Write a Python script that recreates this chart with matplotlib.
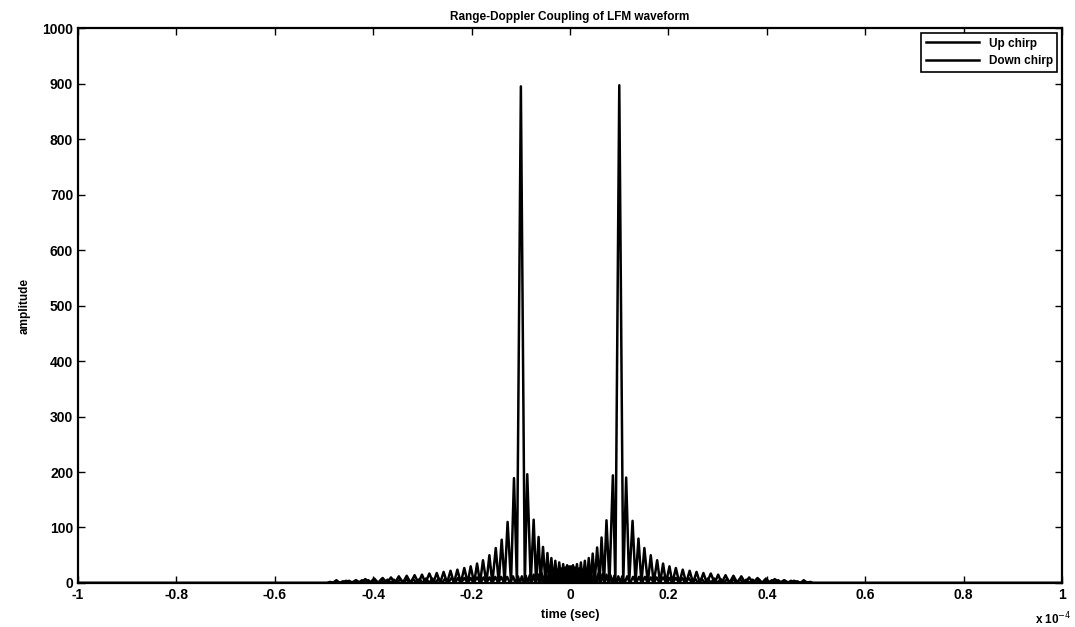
import matplotlib.pyplot as plt
from matplotlib.ticker import FuncFormatter, MultipleLocator

plt.rcParams['font.family'] = ['Liberation Sans', 'DejaVu Sans']
plt.rcParams['axes.unicode_minus'] = False

# time in units of 1e-4 s, amplitude
# up chirp: main lobe at -0.1
up_top_t = [-0.476, -0.455, -0.435, -0.416, -0.398, -0.381, -0.364, -0.348, -0.332, -0.316,
            -0.301, -0.286, -0.271, -0.257, -0.243, -0.229, -0.215, -0.202, -0.189, -0.177,
            -0.164, -0.151, -0.139, -0.127, -0.114, -0.100, -0.087, -0.074, -0.064, -0.055,
            -0.046, -0.038, -0.030, -0.022, -0.014, -0.006, 0.002, 0.010, 0.018, 0.026,
            0.034, 0.042, 0.050, 0.058, 0.066, 0.074, 0.082, 0.090, 0.098, 0.106,
            0.116, 0.128, 0.140, 0.152, 0.164, 0.176, 0.189, 0.202, 0.215, 0.228,
            0.241, 0.254, 0.267, 0.280, 0.293, 0.306, 0.319, 0.332, 0.345, 0.358,
            0.371, 0.384, 0.397, 0.410, 0.423, 0.436, 0.449, 0.462, 0.475, 0.488]
up_top_a = [2, 4, 5, 7, 8, 9, 10, 12, 13, 14,
            15, 17, 18, 20, 22, 24, 27, 30, 35, 41,
            50, 63, 78, 110, 189, 895, 196, 114, 83, 65,
            54, 45, 40, 37, 34, 32, 30, 28, 26, 24,
            22, 21, 19, 18, 16, 15, 14, 13, 12, 12,
            12, 11, 11, 11, 10, 10, 10, 9, 9, 9,
            9, 8, 8, 8, 8, 7, 7, 7, 7, 6,
            6, 6, 5, 5, 5, 4, 4, 3, 5, 2]
up_null_t = [-1.0, -0.490, -0.466, -0.445, -0.426, -0.407, -0.390, -0.372, -0.356, -0.340,
             -0.324, -0.308, -0.294, -0.278, -0.264, -0.250, -0.236, -0.222, -0.208, -0.195,
             -0.183, -0.170, -0.158, -0.145, -0.133, -0.120, -0.108, -0.092, -0.080, -0.069,
             -0.060, -0.050, -0.042, -0.034, -0.026, -0.018, -0.010, -0.002, 0.006, 0.014,
             0.022, 0.030, 0.038, 0.046, 0.054, 0.062, 0.070, 0.078, 0.086, 0.094,
             0.102, 0.111, 0.122, 0.134, 0.146, 0.158, 0.170, 0.182, 0.196, 0.208,
             0.222, 0.234, 0.248, 0.260, 0.274, 0.286, 0.300, 0.312, 0.326, 0.338,
             0.352, 0.364, 0.378, 0.390, 0.404, 0.416, 0.430, 0.442, 0.455, 0.468,
             0.482, 0.494, 0.500, 1.0]

# down chirp: main lobe at +0.1
down_top_t = [-0.488, -0.475, -0.462, -0.449, -0.436, -0.423, -0.410, -0.397, -0.384, -0.371,
              -0.358, -0.345, -0.332, -0.319, -0.306, -0.293, -0.280, -0.267, -0.254, -0.241,
              -0.228, -0.215, -0.202, -0.189, -0.176, -0.164, -0.152, -0.140, -0.128, -0.116,
              -0.106, -0.098, -0.090, -0.082, -0.074, -0.066, -0.058, -0.050, -0.042, -0.034,
              -0.026, -0.018, -0.010, -0.002, 0.006, 0.014, 0.022, 0.030, 0.038, 0.046,
              0.055, 0.064, 0.074, 0.087, 0.100, 0.114, 0.127, 0.139, 0.151, 0.164,
              0.177, 0.189, 0.202, 0.215, 0.229, 0.243, 0.257, 0.271, 0.286, 0.301,
              0.316, 0.332, 0.348, 0.364, 0.381, 0.398, 0.416, 0.435, 0.455, 0.476]
down_top_a = [2, 5, 3, 4, 4, 5, 5, 5, 6, 6,
              6, 7, 7, 7, 7, 8, 8, 8, 8, 9,
              9, 9, 9, 10, 10, 10, 11, 11, 11, 12,
              12, 12, 13, 14, 15, 16, 18, 19, 21, 22,
              24, 26, 28, 30, 32, 34, 37, 40, 45, 53,
              64, 82, 113, 194, 897, 190, 112, 80, 63, 50,
              41, 35, 30, 27, 24, 22, 20, 18, 17, 15,
              14, 13, 12, 10, 9, 8, 7, 5, 4, 2]
down_null_t = [-1.0, -0.500, -0.494, -0.482, -0.468, -0.455, -0.442, -0.430, -0.416, -0.404,
               -0.390, -0.378, -0.364, -0.352, -0.338, -0.326, -0.312, -0.300, -0.286, -0.274,
               -0.260, -0.248, -0.234, -0.222, -0.208, -0.196, -0.182, -0.170, -0.158, -0.146,
               -0.134, -0.122, -0.111, -0.102, -0.094, -0.086, -0.078, -0.070, -0.062, -0.054,
               -0.046, -0.038, -0.030, -0.022, -0.014, -0.006, 0.002, 0.010, 0.018, 0.026,
               0.034, 0.042, 0.050, 0.060, 0.069, 0.080, 0.092, 0.108, 0.120, 0.133,
               0.145, 0.158, 0.170, 0.183, 0.195, 0.208, 0.222, 0.236, 0.250, 0.264,
               0.278, 0.294, 0.308, 0.324, 0.340, 0.356, 0.372, 0.390, 0.407, 0.426,
               0.445, 0.466, 0.490, 1.0]

x_ticks = [-1, -0.8, -0.6, -0.4, -0.2, 0, 0.2, 0.4, 0.6, 0.8, 1]


def trace(top_t, top_a, null_t):
    # lobe tops joined through the nulls (which sit on zero)
    pts = sorted(list(zip(top_t, top_a)) + [(t, 0) for t in null_t])
    return [p[0] for p in pts], [p[1] for p in pts]


fig = plt.figure(figsize=(10.75, 6.27), dpi=100)
ax = fig.add_axes([0.0726, 0.0702, 0.9154, 0.885])

ut, ua = trace(up_top_t, up_top_a, up_null_t)
dt, da = trace(down_top_t, down_top_a, down_null_t)
ax.plot(ut, ua, color="black", linewidth=1.8, label="Up chirp")
ax.plot(dt, da, color="black", linewidth=1.8, label="Down chirp")

ax.set_xlim(-1, 1)
ax.set_ylim(0, 1000)
ax.set_xticks(x_ticks)
ax.yaxis.set_major_locator(MultipleLocator(100))
ax.xaxis.set_major_formatter(FuncFormatter(lambda v, p: "%g" % round(v, 2)))
ax.tick_params(direction="in", top=True, right=True, length=5, width=1,
               labelsize=10)
for lab in ax.get_xticklabels() + ax.get_yticklabels():
    lab.set_fontweight("bold")
for spine in ax.spines.values():
    spine.set_linewidth(1.6)

ax.set_title("Range-Doppler Coupling of LFM waveform", fontsize=8.5,
             fontweight="bold", pad=6)
ax.set_xlabel("time (sec)", fontsize=9, fontweight="bold", labelpad=5)
ax.set_ylabel("amplitude", fontsize=8.5, fontweight="bold", labelpad=8)
ax.text(1.01, -0.05, r"x 10$^{-4}$", transform=ax.transAxes, ha="right",
        va="top", fontsize=8.5, fontweight="bold")

leg = ax.legend(loc="upper right", handlelength=4.5,
                fancybox=False, framealpha=1, borderaxespad=0.4,
                prop={"weight": "bold", "size": 8.5})
leg.get_frame().set_edgecolor("black")
leg.get_frame().set_linewidth(1.2)

fig.savefig("out.png", dpi=100)
